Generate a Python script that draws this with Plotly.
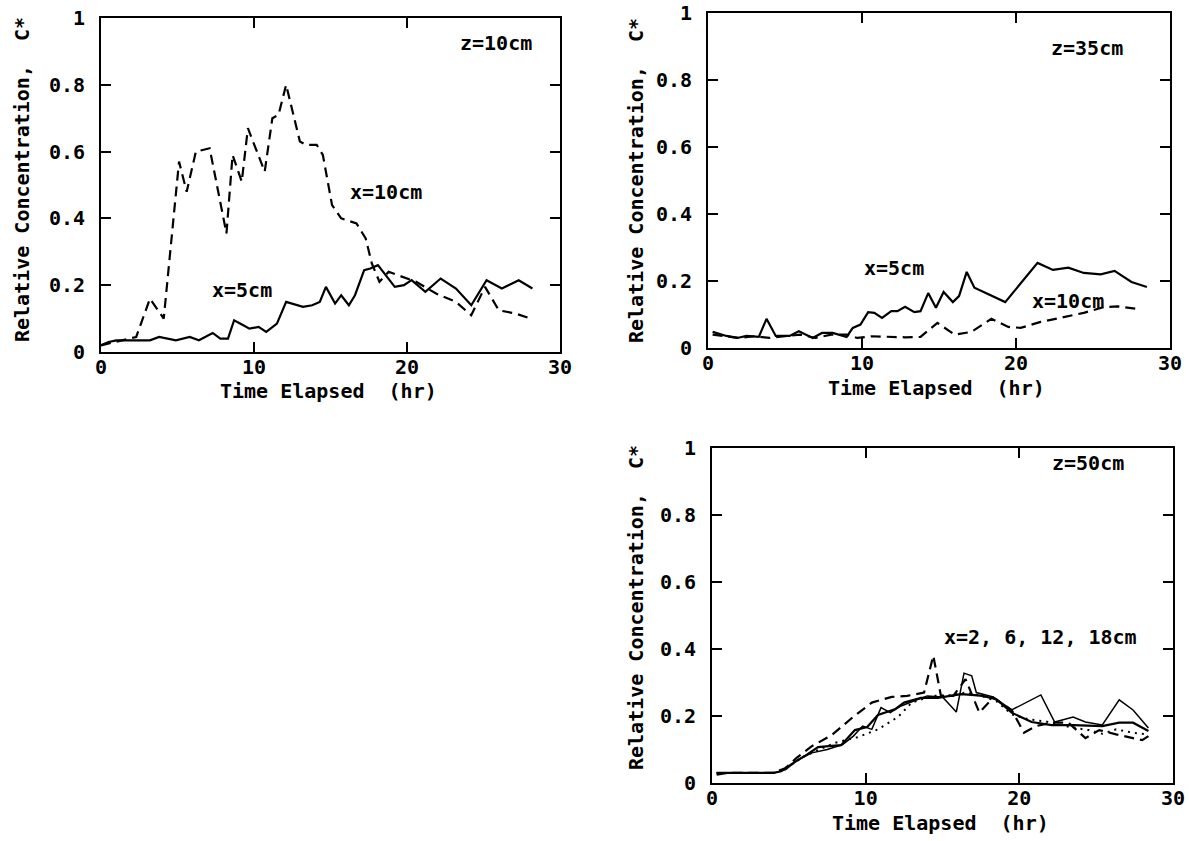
import plotly.graph_objects as go

# ---- data (hours, relative concentration C*) ----
# z = 10 cm
t10_x5 = [0, 0.5, 1, 2.3, 3.2, 3.8, 4.9, 5.8, 6.4, 7.3, 7.8, 8.3, 8.7, 9.3, 9.7, 10.3, 10.8, 11.5, 12.1, 13.2,
          13.8, 14.3, 14.7, 15.3, 15.7, 16.2, 16.6, 17.2, 17.6, 18.1, 18.6, 19.2, 19.8, 20.3, 21.2, 22.2, 23.2,
          24.2, 25.2, 26.2, 27.3, 28.2]
c10_x5 = [0.02, 0.03, 0.035, 0.035, 0.035, 0.045, 0.035, 0.045, 0.035, 0.057, 0.04, 0.04, 0.095, 0.08, 0.07,
          0.075, 0.06, 0.085, 0.15, 0.135, 0.14, 0.15, 0.195, 0.145, 0.17, 0.14, 0.17, 0.245, 0.25, 0.26, 0.23,
          0.195, 0.2, 0.215, 0.18, 0.22, 0.19, 0.14, 0.215, 0.19, 0.215, 0.19]
t10_x10 = [0, 1, 2.3, 3.2, 4.1, 5.1, 5.3, 5.6, 6.2, 7.1, 8.2, 8.6, 9.2, 9.6, 10.7, 11.2, 11.6, 12.1, 13.0, 13.4,
           14.1, 14.5, 15.1, 15.7, 16.7, 17.3, 17.7, 18.2, 18.8, 20.6, 21.9, 23.2, 24.2, 25.1, 26.0, 27.1, 28.1]
c10_x10 = [0.02, 0.03, 0.045, 0.16, 0.10, 0.57, 0.53, 0.48, 0.60, 0.61, 0.355, 0.59, 0.51, 0.67, 0.54, 0.70,
           0.71, 0.80, 0.63, 0.62, 0.62, 0.59, 0.44, 0.40, 0.385, 0.34, 0.265, 0.21, 0.24, 0.21, 0.175, 0.15,
           0.11, 0.195, 0.125, 0.115, 0.10]

# z = 35 cm
t35_x5 = [0.3, 1.2, 1.9, 2.5, 3.3, 3.8, 4.4, 5.3, 5.9, 6.8, 7.4, 8.1, 9.0, 9.4, 9.9, 10.4, 10.8, 11.3, 11.9,
          12.3, 12.8, 13.4, 13.8, 14.3, 14.8, 15.3, 15.9, 16.3, 16.8, 17.3, 19.3, 21.4, 22.4, 23.4, 24.4, 25.5,
          26.4, 27.5, 28.5]
c35_x5 = [0.048, 0.036, 0.03, 0.036, 0.033, 0.087, 0.036, 0.036, 0.05, 0.03, 0.045, 0.045, 0.033, 0.06, 0.07,
          0.107, 0.105, 0.09, 0.11, 0.11, 0.123, 0.107, 0.11, 0.164, 0.12, 0.167, 0.137, 0.155, 0.227, 0.18,
          0.137, 0.254, 0.233, 0.24, 0.224, 0.22, 0.23, 0.197, 0.182]
t35_x10 = [0.3, 1.2, 2.0, 3.0, 4.0, 5.0, 6.0, 7.0, 8.0, 9.0, 9.7, 10.6, 11.7, 12.8, 13.8, 14.9, 16.0, 17.1, 18.4,
           19.5, 20.3, 21.6, 23.1, 24.4, 25.7, 26.6, 28.0]
c35_x10 = [0.04, 0.035, 0.03, 0.035, 0.03, 0.035, 0.04, 0.03, 0.04, 0.04, 0.03, 0.035, 0.033, 0.032, 0.033,
           0.075, 0.04, 0.048, 0.087, 0.063, 0.06, 0.078, 0.092, 0.105, 0.122, 0.124, 0.116]

# z = 50 cm
t50_a = [0.3, 1, 2, 3, 4, 4.5, 5.4, 6.2, 6.9, 7.6, 8.4, 9.3, 10.1, 10.8, 11.9, 12.5, 13.6, 14.7, 15.5, 16.2,
         16.9, 17.6, 18.5, 19.5, 20.8, 22.1, 23.5, 24.5, 25.4, 26.5, 27.4, 28.4]
c50_a = [0.025, 0.03, 0.03, 0.03, 0.03, 0.035, 0.063, 0.085, 0.107, 0.11, 0.113, 0.158, 0.167, 0.203, 0.22,
         0.24, 0.254, 0.254, 0.26, 0.265, 0.263, 0.26, 0.25, 0.21, 0.182, 0.173, 0.173, 0.172, 0.17, 0.18, 0.18,
         0.155]
t50_b = [0.3, 2, 4, 4.8, 5.6, 6.5, 7.5, 8.5, 9.2, 9.8, 10.4, 11.0, 11.6, 12.3, 13.2, 14.0, 15.0, 15.9, 16.4,
         16.9, 17.2, 18.3, 19.5, 21.4, 22.3, 23.5, 24.3, 25.4, 26.5, 27.4, 28.4]
c50_b = [0.03, 0.03, 0.03, 0.04, 0.07, 0.09, 0.1, 0.115, 0.14, 0.17, 0.16, 0.225, 0.21, 0.23, 0.245, 0.26,
         0.257, 0.212, 0.328, 0.32, 0.27, 0.257, 0.218, 0.263, 0.182, 0.197, 0.182, 0.173, 0.248, 0.218, 0.164]
t50_c = [0.3, 2, 4, 4.8, 5.5, 6.5, 7.8, 9.1, 10.4, 11.7, 12.7, 13.8, 14.4, 14.9, 15.7, 16.5, 17.4, 18.3, 19.5,
         20.3, 21.1, 22.1, 23.2, 24.3, 25.2, 26.3, 28.0, 28.4]
c50_c = [0.03, 0.03, 0.03, 0.045, 0.075, 0.11, 0.143, 0.194, 0.24, 0.257, 0.26, 0.27, 0.38, 0.26, 0.26, 0.31,
         0.21, 0.255, 0.218, 0.15, 0.17, 0.18, 0.18, 0.134, 0.158, 0.145, 0.128, 0.14]
t50_d = [0.3, 2, 4, 5, 6, 7, 8, 9.5, 10.8, 12.1, 13.0, 14.3, 15.5, 16.5, 17.5, 18.5, 19.5, 20.6, 21.8, 23.5,
         24.5, 25.4, 26.3, 27.4, 28.4]
c50_d = [0.03, 0.03, 0.03, 0.05, 0.08, 0.1, 0.12, 0.137, 0.16, 0.197, 0.24, 0.26, 0.262, 0.27, 0.26, 0.245,
         0.205, 0.19, 0.183, 0.165, 0.158, 0.147, 0.16, 0.15, 0.145]

x_ticks = [0, 10, 20, 30]
y_ticks = [0, 0.2, 0.4, 0.6, 0.8, 1]
y_tick_text = ["0", "0.2", "0.4", "0.6", "0.8", "1"]

W, H = 1189, 841
FONT = dict(family="DejaVu Sans Mono", size=20, color="black", weight="bold")


def px(x):
    return x / W


def py(y):
    return 1 - y / H


fig = go.Figure()

SOLID = dict(color="black", width=2.2)
DASH = dict(color="black", width=2.2, dash="10px,6px")
THIN = dict(color="black", width=1.5)
DOT = dict(color="black", width=2, dash="2px,5px")

fig.add_trace(go.Scatter(x=t10_x5, y=c10_x5, mode="lines", line=SOLID, xaxis="x", yaxis="y"))
fig.add_trace(go.Scatter(x=t10_x10, y=c10_x10, mode="lines", line=DASH, xaxis="x", yaxis="y"))
fig.add_trace(go.Scatter(x=t35_x5, y=c35_x5, mode="lines", line=SOLID, xaxis="x2", yaxis="y2"))
fig.add_trace(go.Scatter(x=t35_x10, y=c35_x10, mode="lines", line=DASH, xaxis="x2", yaxis="y2"))
fig.add_trace(go.Scatter(x=t50_a, y=c50_a, mode="lines", line=SOLID, xaxis="x3", yaxis="y3"))
fig.add_trace(go.Scatter(x=t50_b, y=c50_b, mode="lines", line=THIN, xaxis="x3", yaxis="y3"))
fig.add_trace(go.Scatter(x=t50_c, y=c50_c, mode="lines", line=DASH, xaxis="x3", yaxis="y3"))
fig.add_trace(go.Scatter(x=t50_d, y=c50_d, mode="lines", line=DOT, xaxis="x3", yaxis="y3"))

ax_common = dict(showline=True, linecolor="black", linewidth=2, mirror="ticks", ticks="inside",
                 ticklen=10, tickwidth=2, tickcolor="black", showgrid=False, zeroline=False,
                 tickfont=FONT, fixedrange=True, automargin=False)

domains = {
    "": ((101, 560), (18, 352)),
    "2": ((708, 1170), (13, 348)),
    "3": ((712, 1173), (448, 783)),
}
for k, ((x0, x1), (y0, y1)) in domains.items():
    fig.update_layout(**{
        "xaxis" + k: dict(ax_common, domain=[px(x0), px(x1)], range=[0, 30], tickvals=x_ticks,
                          anchor="y" + k, ticklabelstandoff=-4),
        "yaxis" + k: dict(ax_common, domain=[py(y1), py(y0)], range=[0, 1], tickvals=y_ticks,
                          ticktext=y_tick_text, anchor="x" + k, ticklabelstandoff=10),
    })

ann = []
YT = "Relative Concentration,  C*"
XT = "Time Elapsed  (hr)"
for (cx, cy) in [(22, 180), (636, 180), (636, 607)]:
    ann.append(dict(x=px(cx), y=py(cy), xref="paper", yref="paper", text=YT, textangle=-90,
                    xanchor="center", yanchor="middle", showarrow=False, font=FONT))
for (cx, cy) in [(328, 391), (936, 388), (940, 823)]:
    ann.append(dict(x=px(cx), y=py(cy), xref="paper", yref="paper", text=XT,
                    xanchor="center", yanchor="middle", showarrow=False, font=FONT))

labels = [
    ("x", "y", 25.8, 0.925, "z=10cm"),
    ("x", "y", 18.6, 0.48, "x=10cm"),
    ("x", "y", 9.2, 0.185, "x=5cm"),
    ("x2", "y2", 24.6, 0.895, "z=35cm"),
    ("x2", "y2", 12.1, 0.24, "x=5cm"),
    ("x2", "y2", 23.4, 0.14, "x=10cm"),
    ("x3", "y3", 24.5, 0.955, "z=50cm"),
    ("x3", "y3", 21.4, 0.436, "x=2, 6, 12, 18cm"),
]
for xr, yr, x, y, t in labels:
    ann.append(dict(x=x, y=y, xref=xr, yref=yr, text=t, showarrow=False, font=FONT,
                    xanchor="center", yanchor="middle"))

fig.update_layout(width=W, height=H, autosize=False, margin=dict(l=0, r=0, t=0, b=0, pad=0),
                  paper_bgcolor="white", plot_bgcolor="white", showlegend=False,
                  annotations=ann, font=FONT)

fig.write_html("out.html", config={"displayModeBar": False},
               post_script="document.body.style.margin='0';document.body.style.padding='0';")
